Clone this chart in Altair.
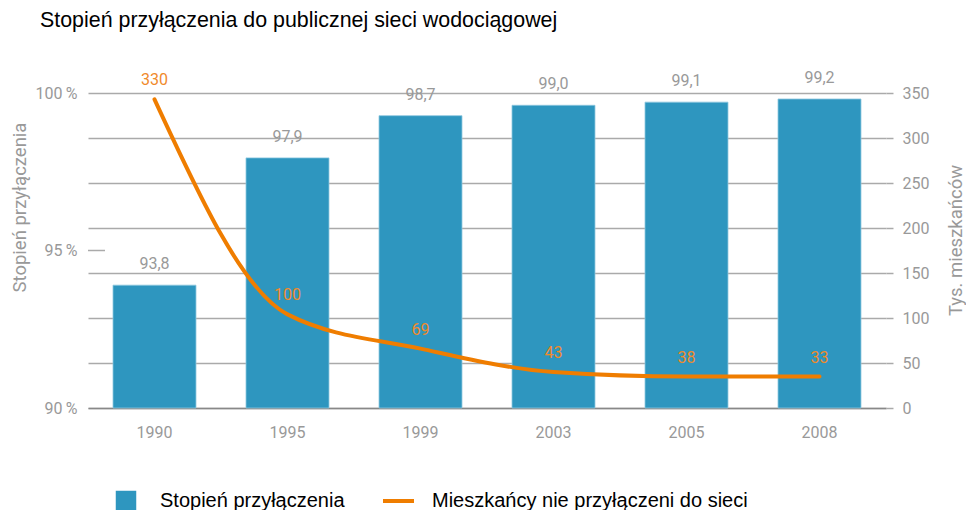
import altair as alt
import pandas as pd

# ---- data ----
years = ["1990", "1995", "1999", "2003", "2005", "2008"]
connection_pct = [93.9, 97.94, 99.28, 99.61, 99.71, 99.81]          # bar heights as drawn
connection_labels = ["93,8", "97,9", "98,7", "99,0", "99,1", "99,2"]
unconnected_k = [343, 104, 66, 40, 35, 35]                          # line as drawn
unconnected_labels = ["330", "100", "69", "43", "38", "33"]

title_text = "Stopień przyłączenia do publicznej sieci wodociągowej"
left_title = "Stopień przyłączenia"
right_title = "Tys. mieszkańców"
series_names = ["Stopień przyłączenia", "Mieszkańcy nie przyłączeni do sieci"]
pct_ticks = [90, 95, 100]
k_ticks = [0, 50, 100, 150, 200, 250, 300, 350]

BLUE = "#2e96bf"
ORANGE = "#ef7d00"
ORANGE_TXT = "#f08a2b"
GRAY = "#999999"
GRID = "#aaaaaa"
NUM_FONT = "Roboto"
TXT_FONT = "Liberation Sans"

df = pd.DataFrame({
    "year": years,
    "pct": connection_pct,
    "pct_label": connection_labels,
    "k": unconnected_k,
    "k_label": unconnected_labels,
})

W, H = 798, 315

x_enc = alt.X(
    "year:O",
    sort=years,
    scale=alt.Scale(paddingInner=0.376, paddingOuter=0.188),
    axis=alt.Axis(
        title=None, labelAngle=0, ticks=False, domainColor="#888888", domainWidth=1.5,
        labelColor=GRAY, labelFont=NUM_FONT, labelFontSize=16, labelPadding=16,
    ),
)

y_left_scale = alt.Scale(domain=[90, 100], zero=False, nice=False)
y_left = alt.Y(
    "pct:Q",
    scale=y_left_scale,
    axis=alt.Axis(
        orient="left", values=pct_ticks, grid=False, ticks=False, domain=False,
        labelExpr="datum.value + '\u2009%'", labelColor=GRAY, labelFont=NUM_FONT,
        labelFontSize=16, labelPadding=11,
        title=left_title, titleColor=GRAY, titleFont=NUM_FONT, titleFontSize=18.5,
        titleFontWeight="normal", titleAngle=270, titleX=-69, titleY=114,
        titleAlign="center", titleBaseline="middle",
    ),
)

base = alt.Chart(df)

bars = base.mark_bar(color=BLUE, stroke="#8ec8e0", strokeWidth=0.8).encode(
    x=x_enc, y=y_left, y2=alt.datum(90)
)
bar_text = base.mark_text(
    baseline="alphabetic", dy=-16, color=GRAY, font=NUM_FONT, fontSize=16
).encode(x=alt.X("year:O", sort=years), y=alt.Y("pct:Q"), text="pct_label:N")

tick95 = alt.Chart(pd.DataFrame({"v": [95]})).mark_rule(color=GRID, strokeWidth=1.5).encode(
    y=alt.Y("v:Q"), x=alt.value(0), x2=alt.value(17)
)

left = alt.layer(bars, bar_text, tick95)

y_right = alt.Y(
    "k:Q",
    scale=alt.Scale(domain=[0, 350], nice=False),
    axis=alt.Axis(
        orient="right", values=k_ticks, grid=True, gridColor=GRID, gridWidth=1.5,
        ticks=True, tickSize=7, tickColor=GRID, tickWidth=1.5, domain=False,
        labelColor=GRAY, labelFont=NUM_FONT, labelFontSize=16, labelPadding=9,
        title=right_title, titleColor=GRAY, titleFont=NUM_FONT, titleFontSize=18.5,
        titleFontWeight="normal", titleAngle=270, titleX=69, titleY=147,
        titleAlign="center", titleBaseline="middle",
    ),
)

line = base.mark_line(color=ORANGE, strokeWidth=4, interpolate="monotone", strokeCap="round").encode(
    x=alt.X("year:O", sort=years), y=y_right
)
line_text = base.mark_text(
    baseline="middle", dy=-19, color=ORANGE_TXT, font=NUM_FONT, fontSize=16
).encode(x=alt.X("year:O", sort=years), y=alt.Y("k:Q"), text="k_label:N")

right = alt.layer(line, line_text)

# ---- title and legend (text marks placed in the padding area) ----
title_mark = alt.Chart(pd.DataFrame({"t": [title_text]})).mark_text(
    align="left", baseline="alphabetic", font=TXT_FONT, fontSize=21.4, color="black"
).encode(x=alt.value(-48), y=alt.value(-66), text="t:N")

leg = alt.Chart(pd.DataFrame({"name": series_names}))
LEG_Y = 408
leg_sq = leg.transform_filter(alt.datum.name == series_names[0]).mark_square(
    size=420, color=BLUE, opacity=1
).encode(x=alt.value(38), y=alt.value(LEG_Y))
leg_t1 = leg.transform_filter(alt.datum.name == series_names[0]).mark_text(
    align="left", baseline="middle", font=TXT_FONT, fontSize=20, color="black"
).encode(x=alt.value(72), y=alt.value(LEG_Y), text="name:N")
leg_line = leg.transform_filter(alt.datum.name == series_names[1]).mark_rule(
    color=ORANGE, strokeWidth=4
).encode(x=alt.value(295), x2=alt.value(326), y=alt.value(LEG_Y))
leg_t2 = leg.transform_filter(alt.datum.name == series_names[1]).mark_text(
    align="left", baseline="middle", font=TXT_FONT, fontSize=20, color="black"
).encode(x=alt.value(344), y=alt.value(LEG_Y), text="name:N")

chart = alt.layer(left, right, title_mark, leg_sq, leg_t1, leg_line, leg_t2).resolve_scale(
    y="independent"
).properties(
    width=W,
    height=H,
    autosize=alt.AutoSizeParams(type="none"),
    padding={"left": 80, "top": 85, "right": 80, "bottom": 102},
).configure_view(stroke=None)

chart.save("out.html", embed_options={"renderer": "svg", "actions": False})
